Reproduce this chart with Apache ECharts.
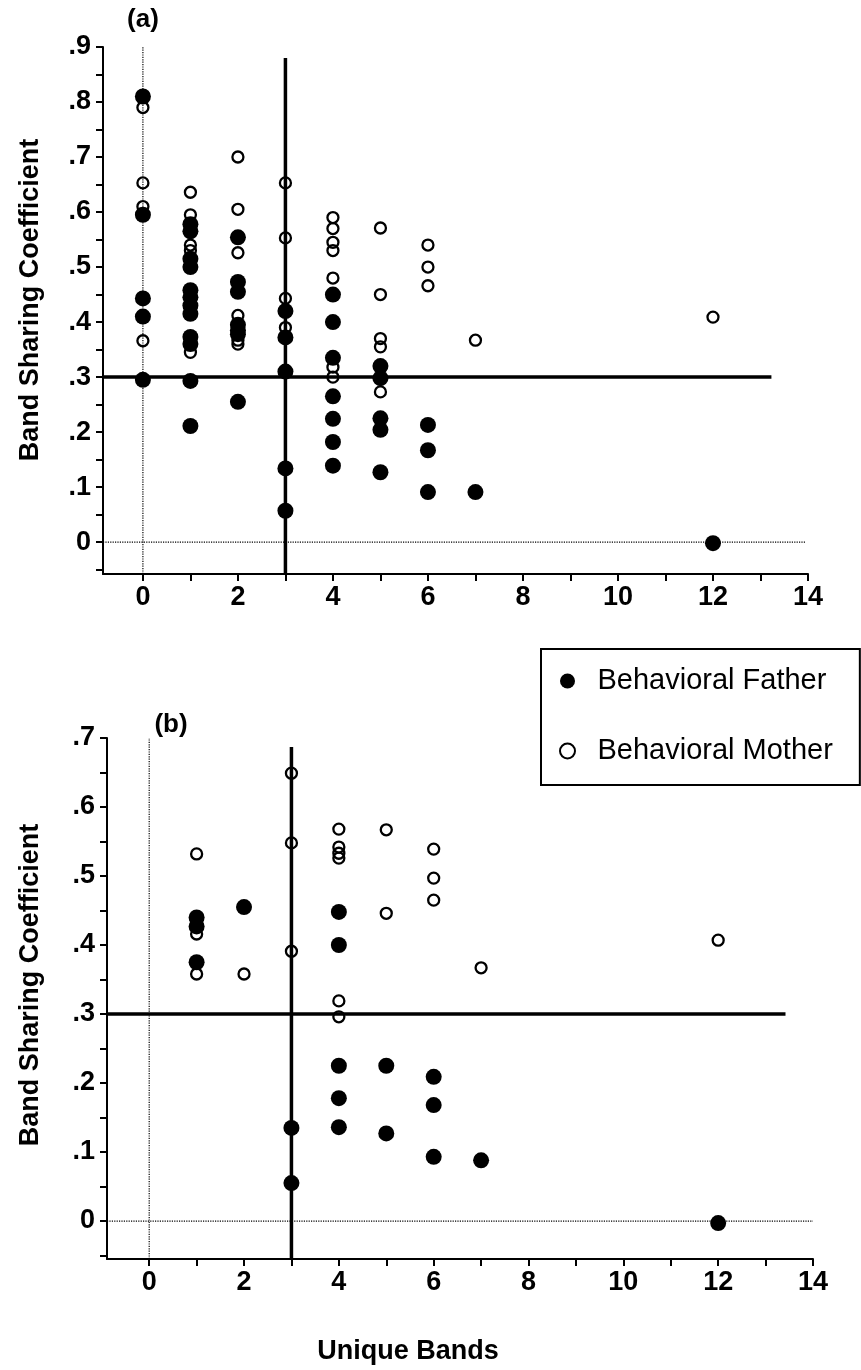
<!DOCTYPE html>
<html>
<head>
<meta charset="utf-8">
<script src="https://cdn.jsdelivr.net/npm/echarts@6/dist/echarts.min.js"></script>
<style>
  html, body { margin: 0; padding: 0; background: #fff; }
  #chart { width: 861px; height: 1370px; }
</style>
</head>
<body>
<div id="chart"></div>
<script>
  // unique bands (x) for each column of points
  const bandsA = [0, 1, 2, 3, 4, 5, 6, 7, 12];
  const bandsB = [1, 2, 3, 4, 5, 6, 7, 12];

  // panel (a): band sharing coefficients, one list per column
  const fatherA = [
    [0.81, 0.595, 0.443, 0.41, 0.295],
    [0.578, 0.565, 0.515, 0.50, 0.458, 0.445, 0.43, 0.415, 0.373, 0.36, 0.293, 0.211],
    [0.554, 0.473, 0.455, 0.395, 0.385, 0.378, 0.255],
    [0.42, 0.372, 0.31, 0.134, 0.057],
    [0.45, 0.40, 0.335, 0.265, 0.224, 0.182, 0.139],
    [0.32, 0.298, 0.225, 0.204, 0.127],
    [0.213, 0.167, 0.091],
    [0.091],
    [-0.002]
  ];
  const motherA = [
    [0.79, 0.653, 0.61, 0.366],
    [0.636, 0.595, 0.54, 0.53, 0.345],
    [0.70, 0.605, 0.526, 0.412, 0.367, 0.36],
    [0.653, 0.553, 0.443, 0.39],
    [0.59, 0.57, 0.545, 0.53, 0.48, 0.318, 0.30],
    [0.571, 0.45, 0.37, 0.355, 0.273],
    [0.54, 0.50, 0.466],
    [0.367],
    [0.409]
  ];

  // panel (b)
  const fatherB = [
    [0.44, 0.427, 0.375],
    [0.455],
    [0.135, 0.055],
    [0.448, 0.40, 0.225, 0.178, 0.136],
    [0.225, 0.127],
    [0.209, 0.168, 0.093],
    [0.088],
    [-0.003]
  ];
  const motherB = [
    [0.532, 0.416, 0.358],
    [0.358],
    [0.649, 0.548, 0.391],
    [0.568, 0.542, 0.533, 0.526, 0.319, 0.296],
    [0.567, 0.446],
    [0.539, 0.497, 0.465],
    [0.367],
    [0.407]
  ];

  // axis ticks / labels
  const xTicks = [0, 1, 2, 3, 4, 5, 6, 7, 8, 9, 10, 11, 12, 13, 14];
  const xLabels = [0, 2, 4, 6, 8, 10, 12, 14];
  const yLabelsA = [0, 0.1, 0.2, 0.3, 0.4, 0.5, 0.6, 0.7, 0.8, 0.9];
  const yTicksA = [-0.05, 0, 0.05, 0.1, 0.15, 0.2, 0.25, 0.3, 0.35, 0.4, 0.45, 0.5, 0.55, 0.6, 0.65, 0.7, 0.75, 0.8, 0.85, 0.9];
  const yLabelsB = [0, 0.1, 0.2, 0.3, 0.4, 0.5, 0.6, 0.7];
  const yTicksB = [-0.05, 0, 0.05, 0.1, 0.15, 0.2, 0.25, 0.3, 0.35, 0.4, 0.45, 0.5, 0.55, 0.6, 0.65, 0.7];

  // axis extents
  const xMinA = -0.84, yMinA = -0.058, yMaxA = 0.9;
  const xMinB = -0.89, yMinB = -0.055, yMaxB = 0.7;
  const xMax = 14;

  // reference lines (cut-offs and zero lines)
  const cutBand = 3, cutShare = 0.3;
  const cutEndA = 13.23, cutTopA = 0.88, zeroEndA = 13.95;
  const cutEndB = 13.42, cutTopB = 0.687, zeroEndB = 14;

  const FONT = '"Liberation Sans", Arial, Helvetica, sans-serif';

  function toPoints(bands, cols) {
    const out = [];
    cols.forEach((vals, i) => vals.forEach(v => out.push([bands[i], v])));
    return out;
  }

  function xAxisCfg(grid, min) {
    return {
      type: 'value', gridIndex: grid, min: min, max: xMax,
      splitLine: { show: false },
      axisLine: { onZero: false, lineStyle: { color: '#000', width: 2 } },
      axisTick: { customValues: xTicks, length: 7, lineStyle: { color: '#000', width: 2 } },
      axisLabel: {
        customValues: xLabels, margin: 10,
        color: '#000', fontSize: 27, fontWeight: 'bold', fontFamily: FONT
      }
    };
  }

  function yAxisCfg(grid, min, max, ticks, labels) {
    return {
      type: 'value', gridIndex: grid, min: min, max: max,
      splitLine: { show: false },
      axisLine: { onZero: false, lineStyle: { color: '#000', width: 2 } },
      axisTick: { customValues: ticks, length: 7, lineStyle: { color: '#000', width: 2 } },
      axisLabel: {
        customValues: labels, margin: 12,
        color: '#000', fontSize: 27, fontWeight: 'bold', fontFamily: FONT,
        formatter: v => Math.abs(v) < 1e-9 ? '0' : '.' + Math.round(v * 10)
      }
    };
  }

  function guide(axis, data, width, type) {
    return {
      type: 'line', xAxisIndex: axis, yAxisIndex: axis, data: data,
      symbol: 'none', silent: true, animation: false, z: 3,
      lineStyle: { color: '#000', width: width, type: type }
    };
  }

  const fatherStyle = { color: '#000', opacity: 1 };
  const motherStyle = { color: 'rgba(0,0,0,0)', borderColor: '#000', borderWidth: 2.3, opacity: 1 };

  const chart = echarts.init(document.getElementById('chart'));
  chart.setOption({
    backgroundColor: '#fff',
    animation: false,
    grid: [
      { left: 103, top: 47, width: 705, height: 527 },
      { left: 107, top: 738, width: 706, height: 521 }
    ],
    xAxis: [xAxisCfg(0, xMinA), xAxisCfg(1, xMinB)],
    yAxis: [
      yAxisCfg(0, yMinA, yMaxA, yTicksA, yLabelsA),
      yAxisCfg(1, yMinB, yMaxB, yTicksB, yLabelsB)
    ],
    legend: {
      orient: 'vertical', left: 541, top: 649,
      data: ['Behavioral Father', 'Behavioral Mother'],
      icon: 'circle', itemWidth: 50, itemHeight: 15, itemGap: 40,
      padding: [17, 27, 19, 18],
      borderColor: '#000', borderWidth: 2, selectedMode: false,
      textStyle: { color: '#000', fontSize: 29, lineHeight: 30, fontFamily: FONT }
    },
    graphic: [
      { type: 'text', x: 143, y: 20, style: { text: '(a)', fill: '#000', font: 'bold 26px ' + FONT, align: 'center', verticalAlign: 'middle' } },
      { type: 'text', x: 171, y: 725, style: { text: '(b)', fill: '#000', font: 'bold 26px ' + FONT, align: 'center', verticalAlign: 'middle' } },
      { type: 'text', x: 31, y: 300, rotation: Math.PI / 2, style: { text: 'Band Sharing Coefficient', fill: '#000', font: 'bold 27px ' + FONT, align: 'center', verticalAlign: 'middle' } },
      { type: 'text', x: 31, y: 985, rotation: Math.PI / 2, style: { text: 'Band Sharing Coefficient', fill: '#000', font: 'bold 27px ' + FONT, align: 'center', verticalAlign: 'middle' } },
      { type: 'text', x: 408, y: 1352, style: { text: 'Unique Bands', fill: '#000', font: 'bold 27px ' + FONT, align: 'center', verticalAlign: 'middle' } }
    ],
    series: [
      guide(0, [[0, yMinA], [0, yMaxA]], 1.2, 'dotted'),
      guide(0, [[xMinA, 0], [zeroEndA, 0]], 1.2, 'dotted'),
      guide(0, [[cutBand, yMinA], [cutBand, cutTopA]], 3.5, 'solid'),
      guide(0, [[xMinA, cutShare], [cutEndA, cutShare]], 3.5, 'solid'),
      guide(1, [[0, yMinB], [0, yMaxB]], 1.2, 'dotted'),
      guide(1, [[xMinB, 0], [zeroEndB, 0]], 1.2, 'dotted'),
      guide(1, [[cutBand, yMinB], [cutBand, cutTopB]], 3.5, 'solid'),
      guide(1, [[xMinB, cutShare], [cutEndB, cutShare]], 3.5, 'solid'),
      {
        name: 'Behavioral Mother', type: 'scatter', xAxisIndex: 0, yAxisIndex: 0,
        data: toPoints(bandsA, motherA), symbolSize: 11, itemStyle: motherStyle, z: 4
      },
      {
        name: 'Behavioral Father', type: 'scatter', xAxisIndex: 0, yAxisIndex: 0,
        data: toPoints(bandsA, fatherA), symbolSize: 16, itemStyle: fatherStyle, z: 5
      },
      {
        name: 'Behavioral Mother', type: 'scatter', xAxisIndex: 1, yAxisIndex: 1,
        data: toPoints(bandsB, motherB), symbolSize: 11, itemStyle: motherStyle, z: 4
      },
      {
        name: 'Behavioral Father', type: 'scatter', xAxisIndex: 1, yAxisIndex: 1,
        data: toPoints(bandsB, fatherB), symbolSize: 16, itemStyle: fatherStyle, z: 5
      }
    ]
  });
</script>
</body>
</html>
